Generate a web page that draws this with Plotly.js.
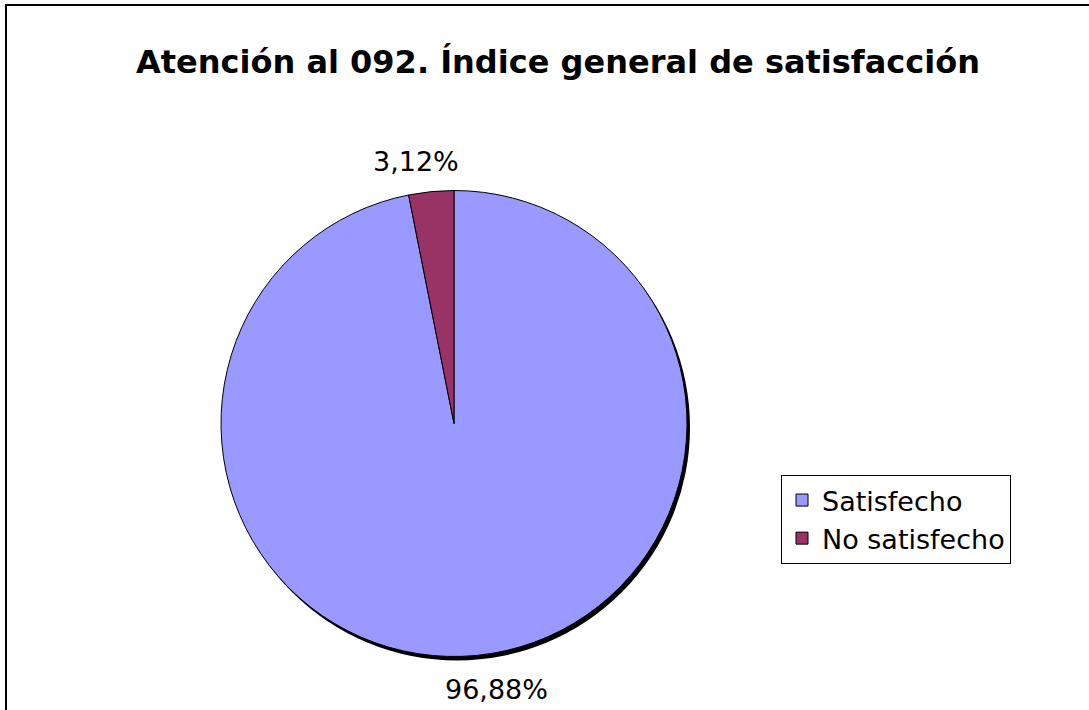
<!DOCTYPE html>
<html>
<head>
<meta charset="utf-8">
<script src="https://cdn.plot.ly/plotly-3.0.1.min.js"></script>
<style>
  html, body { margin: 0; padding: 0; background: #fff; }
  #chart { width: 1089px; height: 710px; }
</style>
</head>
<body>
<div id="chart"></div>
<script>
// Atención al 092 - satisfaction split
var categories = ["Satisfecho", "No satisfecho"];
var shares = [96.88, 3.12];
var sliceColors = ["#9999FF", "#993366"];

var W = 1089, H = 710;
function px(x) { return x / W; }
function py(y) { return 1 - y / H; }

// pie box in pixels
var pieLeft = 221, pieRight = 687, pieTop = 190, pieBottom = 657;

var shadow = {
    type: "pie",
    values: [1],
    labels: ["shadow"],
    marker: {colors: ["#000000"], line: {width: 0}},
    textinfo: "none",
    hoverinfo: "skip",
    showlegend: false,
    sort: false,
    domain: {x: [px(pieLeft + 3), px(pieRight + 3)], y: [py(pieBottom + 4), py(pieTop + 4)]}
};

var pie = {
    type: "pie",
    labels: categories,
    values: shares,
    marker: {colors: sliceColors, line: {color: "#000000", width: 1}},
    textinfo: "none",
    sort: false,
    direction: "clockwise",
    rotation: 0,
    domain: {x: [px(pieLeft), px(pieRight)], y: [py(pieBottom), py(pieTop)]}
};

// outside labels, "96,88%" style
var labelPos = [[496, 689], [416, 161]];
var annotations = shares.map(function (v, i) {
    return {
        text: v.toFixed(2).replace(".", ",") + "%",
        x: px(labelPos[i][0]), y: py(labelPos[i][1]),
        xref: "paper", yref: "paper",
        xanchor: "center", yanchor: "middle",
        showarrow: false,
        font: {family: "DejaVu Sans", size: 27, color: "#000"}
    };
});

var layout = {
    width: W,
    height: H,
    margin: {l: 0, r: 0, t: 0, b: 0},
    paper_bgcolor: "#ffffff",
    title: {
        text: "<b>Atención al 092. Índice general de satisfacción</b>",
        x: px(558), xanchor: "center",
        y: py(62), yanchor: "middle",
        font: {family: "DejaVu Sans", size: 32, color: "#000"}
    },
    showlegend: true,
    legend: {
        x: px(781), y: py(475), xanchor: "left", yanchor: "top",
        bordercolor: "#000", borderwidth: 1,
        bgcolor: "#fff",
        font: {family: "DejaVu Sans", size: 27, color: "#000"},
        traceorder: "normal"
    },
    annotations: annotations,
    shapes: [{
        type: "rect", xref: "paper", yref: "paper",
        x0: px(6), x1: 1.05, y0: -0.05, y1: py(5),
        line: {color: "#000", width: 2}
    }]
};

Plotly.newPlot("chart", [shadow, pie], layout, {displayModeBar: false});
</script>
</body>
</html>
